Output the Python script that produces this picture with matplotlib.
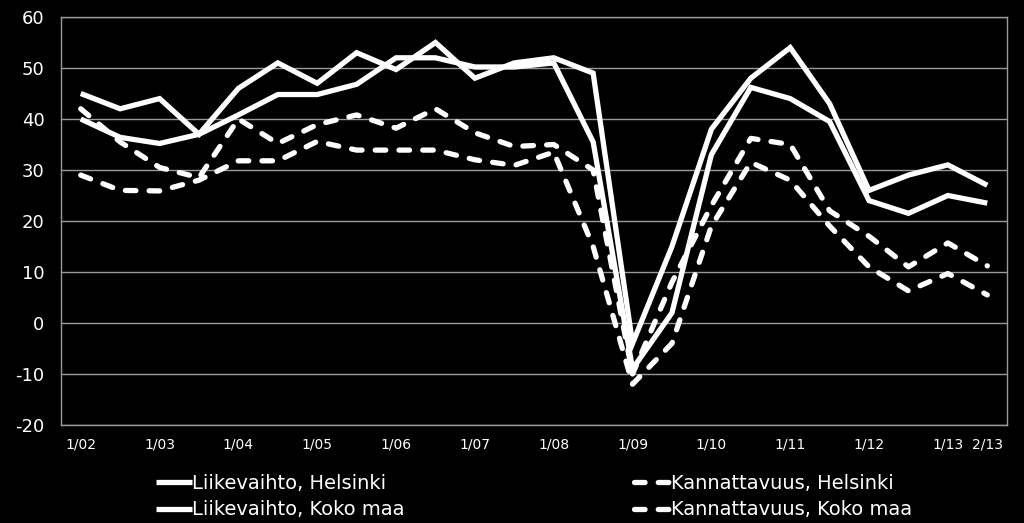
import matplotlib
matplotlib.use("Agg")
import matplotlib.pyplot as plt
import numpy as np

# puolivuosittaiset havainnot 1/02 ... 2/13
periods = ['1/02', '2/02', '1/03', '2/03', '1/04', '2/04', '1/05', '2/05',
           '1/06', '2/06', '1/07', '2/07', '1/08', '2/08', '1/09', '2/09',
           '1/10', '2/10', '1/11', '2/11', '1/12', '2/12', '1/13', '2/13']
shown_labels = ['1/02', '1/03', '1/04', '1/05', '1/06', '1/07', '1/08',
                '1/09', '1/10', '1/11', '1/12', '1/13', '2/13']

liikevaihto_hki = [45, 42, 44, 37, 46, 51, 47, 53, 49.7, 55, 48, 51,
                   52, 49, -4, 15, 38, 48, 54, 43, 26, 29, 31, 27]
liikevaihto_koko = [40, 36.4, 35.2, 37, 40.8, 44.8, 44.8, 46.8, 52, 52, 50.2, 50.2,
                    51, 35.5, -9, 2, 33, 46.2, 44, 39.5, 24, 21.5, 25, 23.5]
kannattavuus_hki = [42, 35.5, 30.5, 28.5, 40, 35.2, 38.9, 40.8, 38.2, 42, 37.3, 34.6,
                    35, 30, -10, 8, 23, 36.2, 35, 22, 17, 11, 15.7, 11.2]
kannattavuus_koko = [29, 26, 25.9, 28, 31.8, 31.8, 35.6, 33.9, 33.9, 33.9, 32, 30.9,
                     33.5, 15, -12, -4, 19, 31.5, 28, 19, 11, 6.3, 9.7, 5.5]

series = [
    ('Liikevaihto, Helsinki', liikevaihto_hki, '-'),
    ('Liikevaihto, Koko maa', liikevaihto_koko, '-'),
    ('Kannattavuus, Helsinki', kannattavuus_hki, '--'),
    ('Kannattavuus, Koko maa', kannattavuus_koko, '--'),
]

fig = plt.figure(figsize=(10.24, 5.23), dpi=100, facecolor='black')
ax = fig.add_axes([0.0596, 0.1874, 0.9238, 0.7801])
ax.set_facecolor('black')

x = np.arange(len(periods))
for name, vals, style in series:
    if style == '-':
        ax.plot(x, vals, color='white', lw=3.8, label=name,
                solid_joinstyle='miter', solid_capstyle='butt', zorder=3)
    else:
        ax.plot(x, vals, color='white', lw=3.8, label=name,
                dashes=(2, 2.5), dash_capstyle='round', zorder=3)

ax.set_xlim(-0.5, len(periods) - 0.5)
ax.set_ylim(-20, 60)
ax.set_yticks(np.arange(-20, 61, 10))
ax.set_yticklabels([str(v) for v in range(-20, 61, 10)])
ax.set_xticks([periods.index(p) for p in shown_labels])
ax.set_xticklabels(shown_labels)

ax.grid(axis='y', color='#9a9a9a', lw=1)
ax.set_axisbelow(True)
for sp in ax.spines.values():
    sp.set_color('#9a9a9a')
    sp.set_linewidth(1)

ax.tick_params(axis='y', length=0, pad=12, labelsize=13, labelcolor='white')
ax.tick_params(axis='x', length=0, pad=9, labelsize=10, labelcolor='white')

leg = ax.legend(loc='upper center', bbox_to_anchor=(0.5, -0.086), ncol=2,
                frameon=False, fontsize=14, handlelength=1.85,
                handletextpad=0.05, columnspacing=11.8, labelspacing=0.4,
                borderpad=0.2)
for t in leg.get_texts():
    t.set_color('white')

fig.savefig('out.png', dpi=100, facecolor='black')
